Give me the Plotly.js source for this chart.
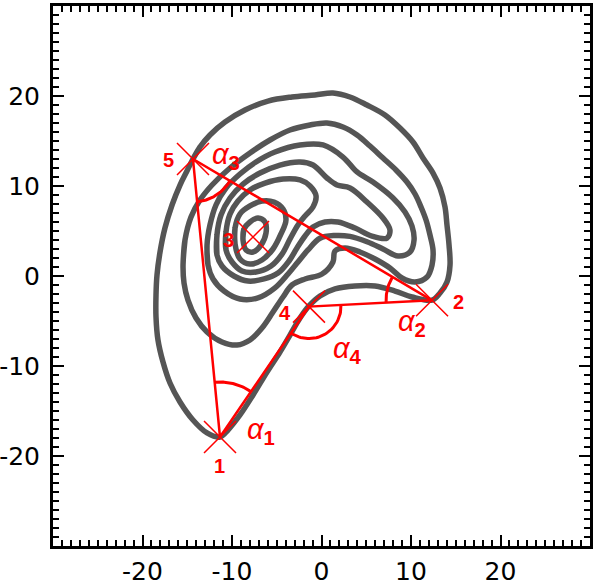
<!DOCTYPE html>
<html>
<head>
<meta charset="utf-8">
<script src="https://cdn.plot.ly/plotly-3.0.1.min.js"></script>
<style>
  body { margin: 0; background: #fff; }
  #chart { width: 600px; height: 584px; }
</style>
</head>
<body>
<div id="chart"></div>
<script>
// contour levels, outermost first
const c1x = [-14.36,-13.58,-12.46,-10.78,-8.55,-5.98,-3.30,-0.73,1.28,3.18,5.08,7.09,8.77,10.22,11.34,12.46,13.24,13.80,14.02,14.25,14.36,14.02,13.24,12.35,10.11,8.21,5.98,3.74,1.51,-0.17,-1.40,-2.40,-3.52,-4.64,-6.09,-7.65,-9.11,-10.45,-11.34,-12.79,-14.36,-15.81,-16.93,-17.71,-18.27,-18.49,-18.49,-18.38,-18.04,-17.49,-16.70,-15.81,-15.03];
const c1y = [13.0,14.33,15.67,17.11,18.44,19.44,19.89,20.11,20.33,19.89,19.0,17.89,16.44,14.89,13.11,11.44,9.78,7.67,5.67,3.44,1.22,-0.67,-1.89,-2.67,-2.33,-1.67,-1.11,-1.11,-1.44,-2.22,-3.33,-4.67,-6.56,-8.44,-10.67,-13.22,-15.44,-17.11,-17.89,-17.44,-16.0,-14.0,-11.89,-9.56,-7.11,-4.56,-2.11,0.11,2.67,5.33,7.89,10.11,11.67];

const c2x = [-15.47,-15.25,-14.58,-13.58,-12.23,-10.22,-7.99,-5.75,-3.52,-1.28,0.61,2.40,3.97,5.42,6.87,8.32,9.55,10.45,11.12,11.68,12.12,12.46,12.35,11.79,10.45,8.99,7.65,5.98,4.30,2.63,1.51,1.28,0.06,-1.84,-3.30,-4.30,-5.42,-6.65,-7.99,-9.44,-11.12,-12.79,-14.02,-14.92,-15.36];
const c2y = [1.22,4.0,6.56,8.44,10.11,12.0,13.67,15.11,16.22,16.78,17.0,16.56,15.67,14.44,13.11,11.78,10.44,9.11,7.67,6.22,4.56,2.89,1.22,-0.11,-0.67,-0.22,0.89,1.89,2.67,3.11,2.78,1.56,0.22,-0.33,-1.0,-2.33,-4.0,-5.78,-7.11,-7.67,-7.33,-6.22,-4.67,-2.67,-0.78];

const c3x = [-12.68,-12.79,-12.46,-11.79,-10.67,-9.11,-7.32,-5.20,-2.40,0.17,2.40,3.97,5.75,7.99,9.33,10.11,10.34,9.89,8.55,6.87,5.08,3.18,1.51,-0.17,-1.51,-2.63,-3.74,-5.20,-7.09,-9.11,-10.89,-12.12];
const c3y = [1.22,3.44,5.67,7.89,9.78,11.33,12.67,13.78,14.56,14.56,13.22,11.56,10.44,8.67,7.11,5.56,4.0,2.67,2.22,3.0,3.8,4.4,4.5,4.2,2.89,1.56,0.22,-1.33,-2.44,-2.56,-1.67,-0.33];

const c4x = [-11.68,-11.68,-11.23,-10.22,-8.77,-6.87,-4.64,-2.40,-0.95,0.61,1.73,3.18,5.08,6.87,7.65,7.32,5.64,3.74,1.84,0.39,-0.95,-1.84,-2.74,-3.63,-4.86,-6.42,-8.21,-9.78,-11.12];
const c4y = [2.33,4.56,6.78,8.67,10.22,11.44,12.33,12.67,12.33,10.89,10.11,9.78,8.22,6.44,5.11,4.22,4.44,5.33,6.0,6.0,5.44,4.44,3.11,1.67,0.33,-0.33,-0.56,0.0,1.11];

const c5x = [-10.67,-10.67,-10.22,-9.33,-7.99,-6.31,-4.30,-2.40,-1.28,-0.61,-0.95,-1.84,-2.63,-3.52,-4.41,-5.64,-7.32,-8.88,-10.0];
const c5y = [2.89,4.89,6.89,8.33,9.56,10.33,10.78,10.67,10.0,8.89,7.67,6.67,5.67,4.11,2.44,1.11,0.44,0.56,1.56];

const c6x = [-9.66,-9.66,-9.11,-7.99,-6.65,-5.31,-4.30,-3.97,-4.53,-5.42,-6.65,-7.99,-9.11];
const c6y = [3.56,5.33,6.89,7.78,8.33,8.22,7.44,6.22,4.67,3.0,1.78,1.33,1.89];

const c7x = [-8.77,-8.66,-7.99,-7.09,-6.31,-6.20,-6.76,-7.65,-8.43];
const c7y = [4.0,5.22,6.0,6.44,6.0,4.78,3.44,2.67,2.89];

// marked points 1..5
const ptX = [-11.34, 12.35, -7.65, -1.4, -14.36];
const ptY = [-17.89, -2.7, 4.33, -3.4, 13.0];
const ptNames = ['1', '2', '3', '4', '5'];

// polygon 1 -> 5 -> 2 -> 4 -> 1 (indices into ptX)
const polyOrder = [0, 4, 1, 3, 0];

// angle marks: vertex, the two neighbours, name
const angleVertex = [0, 1, 4, 3];
const angleFrom = [4, 4, 0, 1];
const angleTo = [3, 3, 1, 0];
const angleNames = ['1', '2', '3', '4'];

const tickVals = [-20, -10, 0, 10, 20];

const RED = 'rgb(255,0,0)';
const GRAY = 'rgb(85,85,85)';

const margin = { l: 53, r: 10, t: 6, b: 38 };
const W = 600, H = 584;
const kx = (W - margin.l - margin.r) / 60; // px per unit
const ky = (H - margin.t - margin.b) / 60;

const contours = [[c1x, c1y], [c2x, c2y], [c3x, c3y], [c4x, c4y], [c5x, c5y], [c6x, c6y], [c7x, c7y]];

const traces = [];
contours.forEach(([cx, cy]) => {
    traces.push({
        x: cx.concat([cx[0], cx[1]]),
        y: cy.concat([cy[0], cy[1]]),
        type: 'scatter',
        mode: 'lines',
        line: { color: GRAY, width: 5.5, shape: 'spline', smoothing: 1 },
        hoverinfo: 'skip'
    });
});

// polygon edges
traces.push({
    x: polyOrder.map(i => ptX[i]),
    y: polyOrder.map(i => ptY[i]),
    type: 'scatter',
    mode: 'lines',
    line: { color: RED, width: 2.5 },
    hoverinfo: 'skip'
});

// angle arcs (radius in px)
const arcRadius = [55, 46, 43, 32];
function arcPoints(v, a, b, r) {
    const a0 = Math.atan2((ptY[a] - ptY[v]) * ky, (ptX[a] - ptX[v]) * kx);
    const a1 = Math.atan2((ptY[b] - ptY[v]) * ky, (ptX[b] - ptX[v]) * kx);
    let d = a1 - a0;
    while (d > Math.PI) d -= 2 * Math.PI;
    while (d < -Math.PI) d += 2 * Math.PI;
    const xs = [], ys = [];
    for (let i = 0; i <= 40; i++) {
        const t = a0 + d * i / 40;
        xs.push(ptX[v] + r * Math.cos(t) / kx);
        ys.push(ptY[v] + r * Math.sin(t) / ky);
    }
    return { xs, ys };
}
angleVertex.forEach((v, k) => {
    const p = arcPoints(v, angleFrom[k], angleTo[k], arcRadius[k]);
    traces.push({
        x: p.xs, y: p.ys,
        type: 'scatter', mode: 'lines',
        line: { color: RED, width: 3 },
        hoverinfo: 'skip'
    });
});

// crosses
traces.push({
    x: ptX, y: ptY,
    type: 'scatter', mode: 'markers',
    marker: { symbol: 'x-thin-open', size: 32, color: RED, line: { color: RED, width: 1.5 } },
    hoverinfo: 'skip'
});

// label offsets in px
const nameShiftX = [-1, 26, -25, -24, -24];
const nameShiftY = [-29, -2, -3, -6, -1];
const alphaShiftX = [41, -20, 33, 39];
const alphaShiftY = [6, -23, 3, -43];

const annotations = [];
ptNames.forEach((n, i) => {
    annotations.push({
        x: ptX[i], y: ptY[i], xref: 'x', yref: 'y',
        text: '<b>' + n + '</b>', showarrow: false,
        xshift: nameShiftX[i], yshift: nameShiftY[i],
        font: { family: 'Liberation Sans, Arial, sans-serif', size: 20, color: RED }
    });
});
angleVertex.forEach((v, k) => {
    annotations.push({
        x: ptX[v], y: ptY[v], xref: 'x', yref: 'y',
        text: '<i>α</i><sub><b>' + angleNames[k] + '</b></sub>', showarrow: false,
        xshift: alphaShiftX[k], yshift: alphaShiftY[k],
        font: { family: 'Liberation Sans, Arial, sans-serif', size: 29, color: RED }
    });
});

const axisCommon = {
    range: [-30, 30],
    showgrid: false,
    zeroline: false,
    showline: true,
    linewidth: 3,
    linecolor: 'black',
    mirror: 'ticks',
    ticks: 'inside',
    ticklen: 11,
    tickwidth: 2,
    tickcolor: 'black',
    tickmode: 'array',
    tickvals: tickVals,
    ticktext: tickVals.map(String),
    tickfont: { family: 'DejaVu Sans, sans-serif', size: 25, color: 'black' },
    minor: { tickmode: 'linear', tick0: 0, dtick: 1, ticks: 'inside', ticklen: 6, tickwidth: 2, tickcolor: 'black', showgrid: false },
    fixedrange: true
};

const layout = {
    width: W,
    height: H,
    margin: margin,
    paper_bgcolor: 'white',
    plot_bgcolor: 'white',
    showlegend: false,
    xaxis: Object.assign({}, axisCommon, { ticklabelstandoff: 1 }),
    yaxis: Object.assign({}, axisCommon, { ticklabelstandoff: 5 }),
    annotations: annotations
};

Plotly.newPlot('chart', traces, layout, { staticPlot: true });
</script>
</body>
</html>
